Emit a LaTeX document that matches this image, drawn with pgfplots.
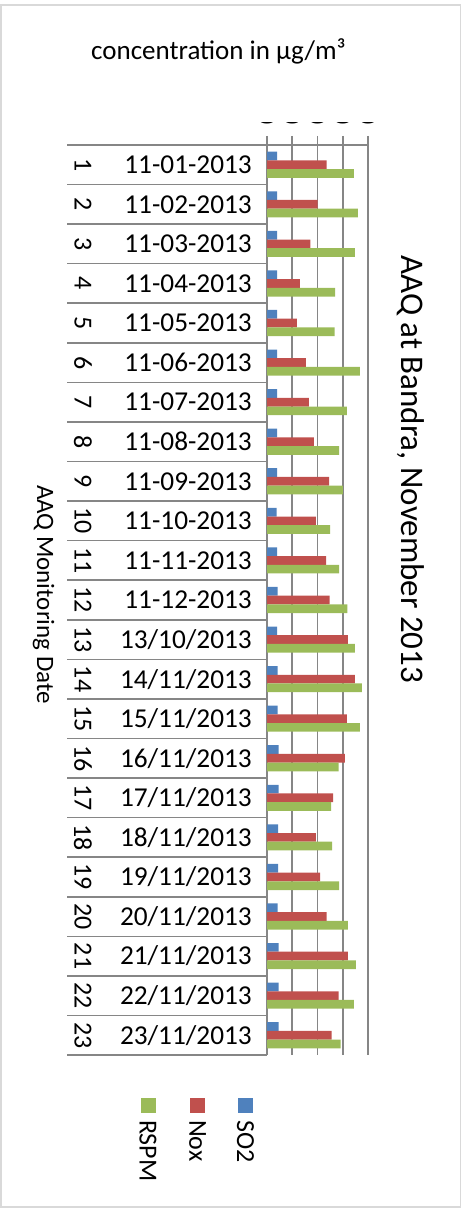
\documentclass[border=0pt]{standalone}
\usepackage{pgfplots}
\pgfplotsset{compat=1.18}
\usepackage{pgfplotstable}
\usepackage{fontspec}
\setmainfont{Carlito}
\definecolor{so2c}{RGB}{79,129,189}
\definecolor{noxc}{RGB}{192,80,77}
\definecolor{rspmc}{RGB}{155,187,89}
\definecolor{gridc}{RGB}{134,134,134}
\definecolor{framec}{RGB}{217,217,217}
\newcommand\lbl{\fontsize{26}{31}\selectfont}
\newcommand\dlbl{\fontsize{27.3}{32}\selectfont}
\pgfplotstableread{
row pos so2 nox rspm
1 23 20 118 172
2 22 20 100 180
3 21 20 86 174
4 20 20 65 135
5 19 20 59 134
6 18 20 77 184
7 17 20 83 158
8 16 20 93 143
9 15 20 123 150
10 14 19 97 125
11 13 20 117 143
12 12 21 124 159
13 11 20 160 174
14 10 21 174 188
15 9 21 158 184
16 8 23 154 142
17 7 23 131 127
18 6 22 97 129
19 5 22 105 143
20 4 21 118 160
21 3 23 160 176
22 2 23 142 172
23 1 23 128 146
}\aaqdata
\begin{document}
\begin{tikzpicture}[x=1pt,y=1pt]
\useasboundingbox (0,0) rectangle (465,1209);
\draw[framec, line width=1.5pt] (0.75,2) rectangle (460.5,1204);
\begin{axis}[
  at={(267pt,154pt)}, anchor=south west,
  scale only axis, width=101pt, height=910pt,
  xmin=0, xmax=200, ymin=0.5, ymax=23.5,
  clip=false,
  axis x line*=top, axis y line*=left,
  axis line style={gridc, line width=1.6pt},
  xtick={0,50,100,150,200}, xticklabels={},
  xmajorgrids, major grid style={gridc, line width=1.6pt},
  x tick style={gridc, line width=1.6pt},
  tick align=outside, major tick length=9pt,
  ytick={1,...,23},
  y tick style={draw=none},
  yticklabels={23/11/2013,22/11/2013,21/11/2013,20/11/2013,19/11/2013,18/11/2013,17/11/2013,16/11/2013,15/11/2013,14/11/2013,13/10/2013,11-12-2013,11-11-2013,11-10-2013,11-09-2013,11-08-2013,11-07-2013,11-06-2013,11-05-2013,11-04-2013,11-03-2013,11-02-2013,11-01-2013},
  yticklabel style={font=\dlbl, anchor=east, inner sep=0pt, xshift=-6pt},
  bar width=8.7pt,
]
\addplot[xbar, fill=so2c, draw=none, bar shift=8.7pt] table[x=so2,y=pos]{\aaqdata};
\addplot[xbar, fill=noxc, draw=none, bar shift=0pt] table[x=nox,y=pos]{\aaqdata};
\addplot[xbar, fill=rspmc, draw=none, bar shift=-8.7pt] table[x=rspm,y=pos]{\aaqdata};
\pgfplotsinvokeforeach{0.5,1.5,...,23.5}{\draw[gridc, line width=1.6pt] (axis cs:0,#1) -- ++(-200pt,0pt);}
\pgfplotsinvokeforeach{1,...,23}{%
  \pgfmathtruncatemacro\lab{24-#1}%
  \edef\temp{\noexpand\node[font=\noexpand\lbl, rotate=-90, inner sep=0pt] at ([xshift=-184pt]axis cs:0,#1) {\lab};}%
  \temp}
\end{axis}
% clipped (cut-off) value-axis labels at the top, as in the reference
\begin{scope}
\clip (240,1083.5) rectangle (400,1086.5);
\foreach \xv/\tl in {267/0,292.25/50,317.5/100,342.75/150,368/200}
  \node[font=\lbl, rotate=-90, anchor=east, inner sep=0pt] at (\xv,1084.5) {\tl};
\end{scope}
\node[font=\fontsize{27}{32}\selectfont, anchor=base, inner sep=0pt] at (218.5,1149) {concentration in µg/m³};
\node[font=\fontsize{33}{38}\selectfont, rotate=-90, anchor=base west, inner sep=0pt] at (401.7,954) {AAQ at Bandra, November 2013};
\node[font=\fontsize{25}{30}\selectfont, rotate=-90, anchor=base west, inner sep=0pt] at (37,724) {AAQ Monitoring Date};
% legend
\fill[rspmc] (140.5,96) rectangle (155.5,111);
\fill[noxc] (190,96) rectangle (205,111);
\fill[so2c] (238,96) rectangle (253,111);
\node[font=\lbl, rotate=-90, anchor=west, inner sep=0pt] at (148,89) {RSPM};
\node[font=\lbl, rotate=-90, anchor=west, inner sep=0pt] at (197.5,89) {Nox};
\node[font=\lbl, rotate=-90, anchor=west, inner sep=0pt] at (245.5,89) {SO2};
\end{tikzpicture}
\end{document}
